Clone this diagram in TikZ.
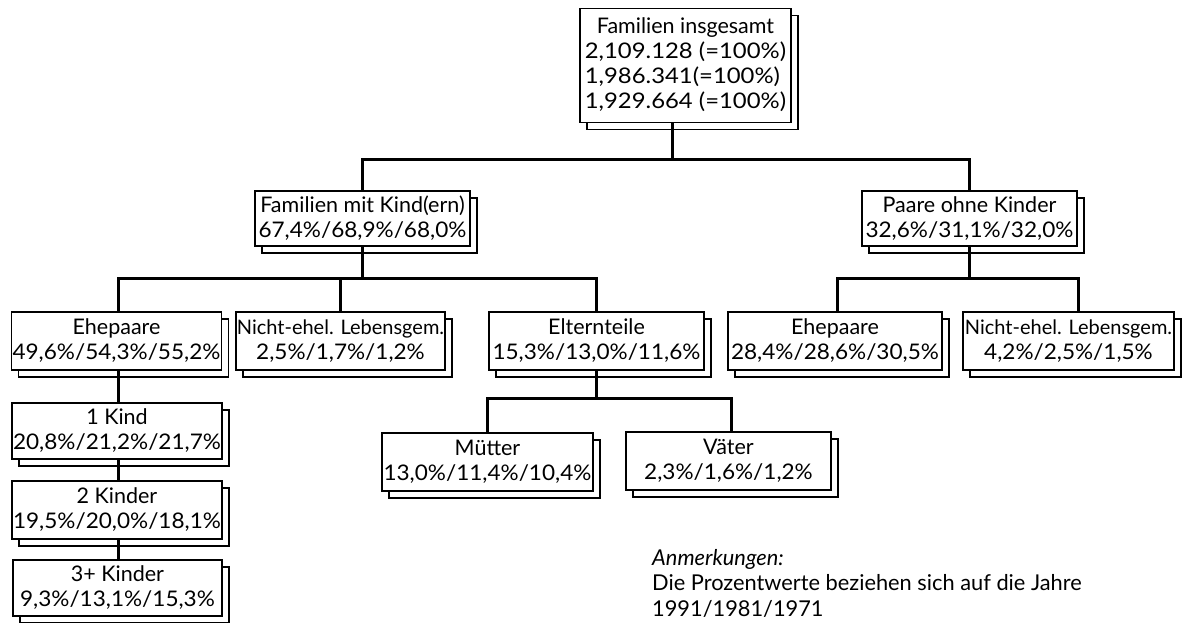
\documentclass[tikz,border=0pt]{standalone}
\usepackage{fontspec}
\setmainfont{Lato}
\newfontfamily\wa[FakeStretch=1.05]{Lato}
\newfontfamily\wb[FakeStretch=1.11]{Lato}
\usetikzlibrary{shadows}
\begin{document}
\begin{tikzpicture}[x=1pt,y=-1pt,
  box/.style={draw, fill=white, line width=1.7pt, inner sep=1pt, align=center,
    font=\fontsize{21.5}{25}\selectfont,
    copy shadow={shadow xshift=7pt, shadow yshift=-7pt, draw=black, fill=white, line width=1.4pt}},
  conn/.style={line width=3pt}]
\useasboundingbox (0,0) rectangle (1187,622);
% boxes
\node[box, minimum width=211, minimum height=114] (top) at (685.5,65.5)
  {\begin{tabular}{@{}l@{}}\multicolumn{1}{@{}c@{}}{Familien insgesamt}\\\wb 2,109.128 (=100\%)\\\wb 1,986.341(=100\%)\\\wb 1,929.664 (=100\%)\end{tabular}};
\node[box, minimum width=215, minimum height=55] (fmk) at (362.5,218.5)
  {Familien mit Kind(ern)\\\wa 67,4\%/68,9\%/68,0\%};
\node[box, minimum width=215, minimum height=55] (pok) at (969.5,218.5)
  {Paare ohne Kinder\\\wa 32,6\%/31,1\%/32,0\%};
\node[box, minimum width=209, minimum height=58] (ehe1) at (116.5,341)
  {Ehepaare\\\wa 49,6\%/54,3\%/55,2\%};
\node[box, minimum width=205, minimum height=58, font=\fontsize{20}{25}\selectfont] (nel1) at (340.5,341)
  {Nicht-ehel. Lebensgem.\\\fontsize{21.5}{25}\selectfont\wa 2,5\%/1,7\%/1,2\%};
\node[box, minimum width=215, minimum height=58] (elt) at (596.5,341)
  {Elternteile\\\wa 15,3\%/13,0\%/11,6\%};
\node[box, minimum width=214, minimum height=58] (ehe2) at (835,341)
  {Ehepaare\\\wa 28,4\%/28,6\%/30,5\%};
\node[box, minimum width=211, minimum height=58, font=\fontsize{20}{25}\selectfont] (nel2) at (1068.5,341)
  {Nicht-ehel. Lebensgem.\\\fontsize{21.5}{25}\selectfont\wa 4,2\%/2,5\%/1,5\%};
\node[box, minimum width=210, minimum height=56] (k1) at (117,431)
  {1 Kind\\\wa 20,8\%/21,2\%/21,7\%};
\node[box, minimum width=208, minimum height=58] (k2) at (117,510)
  {2 Kinder\\\wa 19,5\%/20,0\%/18,1\%};
\node[box, minimum width=209, minimum height=56] (k3) at (117.5,588)
  {3+ Kinder\\\wa 9,3\%/13,1\%/15,3\%};
\node[box, minimum width=211, minimum height=58] (mut) at (487.5,462)
  {Mütter\\\wa 13,0\%/11,4\%/10,4\%};
\node[box, minimum width=205, minimum height=58] (vat) at (728.5,461)
  {Väter\\\wa 2,3\%/1,6\%/1,2\%};
% connectors
\draw[conn] ([xshift=-13]top.south) -- ++(0,36) coordinate (b1);
\draw[conn] (b1) -| (fmk.north);
\draw[conn] (b1) -| (pok.north);
\draw[conn] (fmk.south) -- ++(0,32) coordinate (b2);
\draw[conn] (b2) -| ([xshift=1.5]ehe1.north);
\draw[conn] (b2) -| (nel1.north);
\draw[conn] (b2) -| (elt.north);
\draw[conn] (pok.south) -- ++(0,32) coordinate (b3);
\draw[conn] (b3) -| ([xshift=2]ehe2.north);
\draw[conn] (b3) -| ([xshift=9.5]nel2.north);
\draw[conn] (elt.south) -- ++(0,28) coordinate (b4);
\draw[conn] (b4) -| (mut.north);
\draw[conn] (b4) -| ([xshift=2.5]vat.north);
\draw[conn] ([xshift=1.5]ehe1.south) -- ([xshift=1]k1.north);
\draw[conn] ([xshift=1]k1.south) -- ([xshift=1]k2.north);
\draw[conn] ([xshift=1]k2.south) -- ([xshift=0.5]k3.north);
% note
\node[anchor=north west, align=left, inner sep=0pt, font=\fontsize{21.8}{25.5}\selectfont] (note) at (652,549)
  {\textit{Anmerkungen:}\\Die Prozentwerte beziehen sich auf die Jahre\\1991/1981/1971};
\end{tikzpicture}
\end{document}
